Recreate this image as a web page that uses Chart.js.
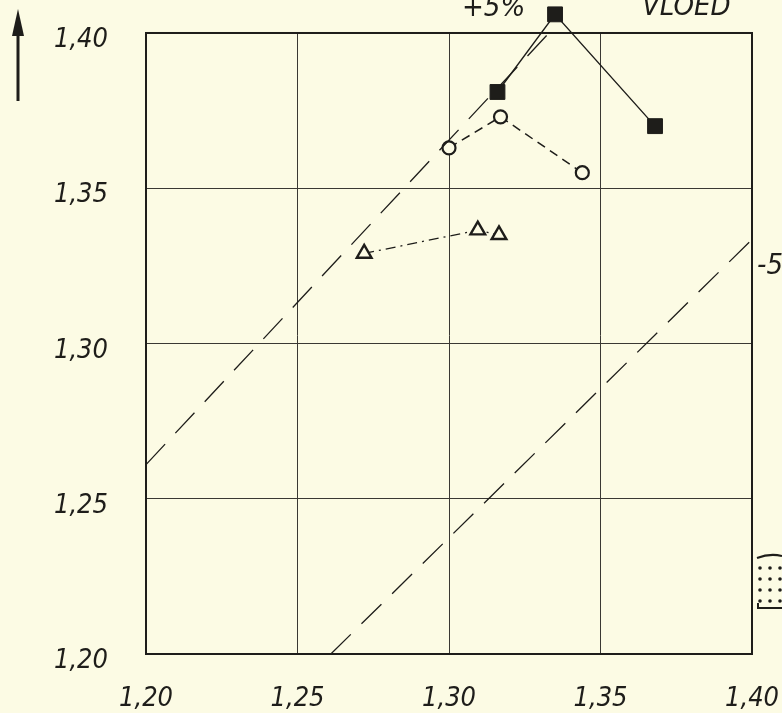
<!DOCTYPE html>
<html>
<head>
<meta charset="utf-8">
<style>
  html, body { margin: 0; padding: 0; background: #fcfbe4; }
  #wrap { width: 782px; height: 713px; }
</style>
<script src="https://cdn.jsdelivr.net/npm/chart.js@4/dist/chart.umd.min.js"></script>
</head>
<body>
<div id="wrap"><canvas id="c" width="782" height="713"></canvas></div>
<script>
// Axis ticks (both axes run 1,20 … 1,40)
const tickValues = [1.20, 1.25, 1.30, 1.35, 1.40];

// Filled squares, solid line
const squareX = [1.316, 1.335, 1.368];
const squareY = [1.381, 1.406, 1.370];

// Open circles, dashed line
const circleX = [1.300, 1.317, 1.344];
const circleY = [1.363, 1.373, 1.355];

// Open triangles, dash-dot line
const triangleX = [1.272, 1.3095, 1.3165];
const triangleY = [1.329, 1.3365, 1.335];

// +5 % and -5 % guide lines
const plusLineX = [1.20, 1.333];
const plusLineY = [1.261, 1.40];
const minusLineX = [1.261, 1.40];
const minusLineY = [1.20, 1.3335];

// The value axis keeps a little headroom above 1,40 so the top marker fits
const Y_MIN = 1.20, Y_FRAME = 1.40, Y_MAX = 1.40515;

const INK = '#1e1d1a';
const PAPER = '#fcfbe4';
const FONT = '"Liberation Sans Narrow", "DejaVu Sans Condensed", "Liberation Sans", sans-serif';

const pts = (xs, ys) => xs.map((x, i) => ({ x, y: ys[i] }));
const comma = v => Number(v).toFixed(2).replace('.', ',');

const paperPlugin = {
  id: 'paper',
  beforeDraw(chart) {
    const { ctx, width, height } = chart;
    ctx.save();
    ctx.fillStyle = PAPER;
    ctx.fillRect(0, 0, width, height);
    ctx.restore();
  }
};

const framePlugin = {
  id: 'frame',
  beforeDatasetsDraw(chart) {
    const { ctx, chartArea: a, scales } = chart;
    const top = scales.y.getPixelForValue(Y_FRAME);
    const bottom = scales.y.getPixelForValue(Y_MIN);
    ctx.save();
    // blank the headroom strip above the frame
    ctx.fillStyle = PAPER;
    ctx.fillRect(a.left - 2, 0, a.right - a.left + 4, top);
    ctx.strokeStyle = INK;
    ctx.lineWidth = 2;
    ctx.strokeRect(a.left, top, a.right - a.left, bottom - top);
    ctx.restore();
  },
  afterDraw(chart) {
    const { ctx } = chart;
    ctx.save();
    ctx.fillStyle = INK;
    ctx.font = 'italic 29px ' + FONT;
    ctx.textBaseline = 'middle';
    ctx.textAlign = 'left';
    ctx.fillText('+5%', 462, 8);
    ctx.fillText('VLOED', 642, 7);
    ctx.fillText('-5%', 757, 266);

    // upward arrow at the left of the value axis
    ctx.lineWidth = 3;
    ctx.strokeStyle = INK;
    ctx.beginPath();
    ctx.moveTo(18, 101);
    ctx.lineTo(18, 28);
    ctx.stroke();
    ctx.beginPath();
    ctx.moveTo(18, 9);
    ctx.lineTo(12, 36);
    ctx.lineTo(24, 36);
    ctx.closePath();
    ctx.fill();

    // dotted swatch at the right edge
    ctx.lineWidth = 2;
    ctx.beginPath();
    ctx.moveTo(757, 558);
    ctx.quadraticCurveTo(770, 553, 782, 556);
    ctx.stroke();
    ctx.beginPath();
    ctx.moveTo(758, 603);
    ctx.lineTo(758, 608);
    ctx.lineTo(782, 608);
    ctx.stroke();
    for (let r = 0; r < 4; r++) {
      for (let c = 0; c < 3; c++) {
        ctx.beginPath();
        ctx.arc(760 + c * 10, 568 + r * 11, 1.8, 0, Math.PI * 2);
        ctx.fill();
      }
    }
    ctx.restore();
  }
};

new Chart(document.getElementById('c'), {
  type: 'scatter',
  data: {
    datasets: [
      {
        data: pts(plusLineX, plusLineY),
        showLine: true, pointRadius: 0,
        borderColor: INK, borderWidth: 1.3, borderDash: [28, 15]
      },
      {
        data: pts(minusLineX, minusLineY),
        showLine: true, pointRadius: 0,
        borderColor: INK, borderWidth: 1.3, borderDash: [28, 15]
      },
      {
        data: pts(triangleX, triangleY),
        showLine: true, borderColor: INK, borderWidth: 1.3,
        borderDash: [10, 5, 2, 5],
        pointStyle: 'triangle', pointRadius: 8.5,
        pointBackgroundColor: PAPER, pointBorderColor: INK, pointBorderWidth: 2.4
      },
      {
        data: pts(circleX, circleY),
        showLine: true, borderColor: INK, borderWidth: 1.5,
        borderDash: [9, 6],
        pointStyle: 'circle', pointRadius: 6.5,
        pointBackgroundColor: PAPER, pointBorderColor: INK, pointBorderWidth: 2.2
      },
      {
        data: pts(squareX, squareY),
        showLine: true, borderColor: INK, borderWidth: 1.4,
        pointStyle: 'rect', pointRadius: 10.5,
        pointBackgroundColor: INK, pointBorderColor: INK, pointBorderWidth: 1,
        clip: false
      }
    ]
  },
  options: {
    responsive: false,
    animation: false,
    devicePixelRatio: 1,
    layout: { autoPadding: false, padding: { top: 17, right: 30, left: 0, bottom: 0 } },
    plugins: { legend: { display: false }, tooltip: { enabled: false } },
    scales: {
      x: {
        type: 'linear', min: 1.20, max: 1.40,
        afterBuildTicks: s => { s.ticks = tickValues.map(v => ({ value: v })); },
        afterFit: s => { s.height = 59; },
        grid: { color: '#3a3833', lineWidth: 1, drawTicks: true, tickLength: 29, tickColor: 'rgba(0,0,0,0)' },
        border: { display: false },
        ticks: {
          padding: 0, color: INK,
          font: { family: FONT, size: 27, style: 'italic' },
          callback: v => comma(v)
        }
      },
      y: {
        type: 'linear', min: Y_MIN, max: Y_MAX,
        afterBuildTicks: s => { s.ticks = tickValues.map(v => ({ value: v })); },
        afterFit: s => { s.width = 146; },
        grid: { color: '#3a3833', lineWidth: 1, drawTicks: true, tickLength: 38, tickColor: 'rgba(0,0,0,0)' },
        border: { display: false },
        ticks: {
          padding: 0, color: INK, labelOffset: 7,
          font: { family: FONT, size: 27, style: 'italic' },
          callback: v => comma(v)
        }
      }
    }
  },
  plugins: [paperPlugin, framePlugin]
});
</script>
</body>
</html>
